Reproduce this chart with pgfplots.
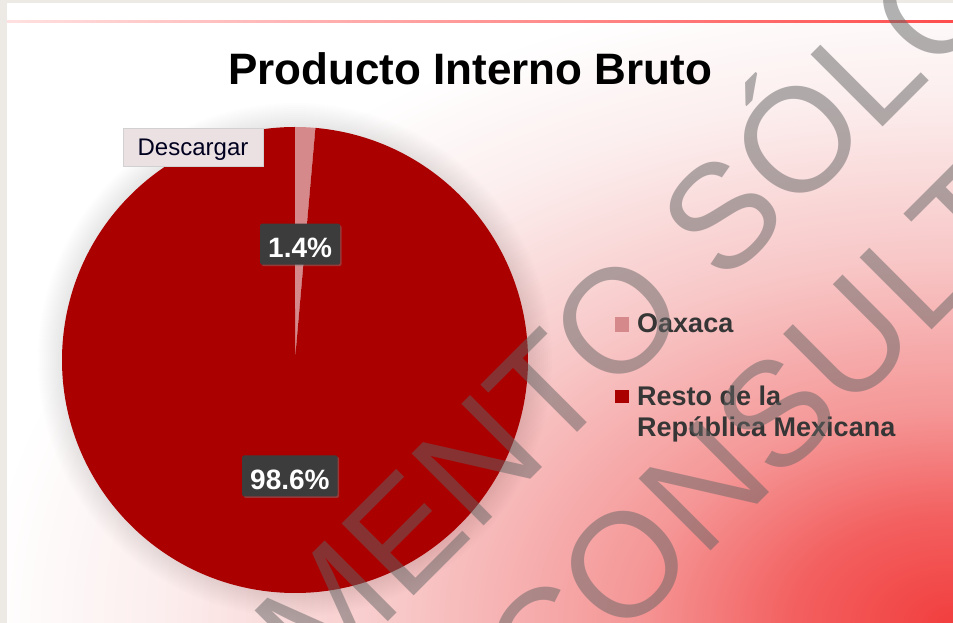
\documentclass[border=0pt]{standalone}
\usepackage{fontspec}
\setmainfont{Liberation Sans}
\usepackage{pgfplots}
\usepackage{pgfplotstable}
\pgfplotsset{compat=1.18}
\usetikzlibrary{shadows}

\definecolor{resto}{HTML}{AA0000}
\definecolor{oaxaca}{HTML}{D5898A}
\definecolor{lblgray}{HTML}{3C3C3C}
\definecolor{legtext}{HTML}{363636}
\definecolor{wmgray}{HTML}{646464}
\definecolor{framegray}{HTML}{EDEAE6}
\definecolor{btnfill}{HTML}{EBE0E2}
\definecolor{bg0}{RGB}{242,62,62}
\definecolor{bg1}{RGB}{243,95,95}
\definecolor{bg2}{RGB}{245,150,150}
\definecolor{bg3}{RGB}{248,200,200}
\definecolor{bg4}{RGB}{252,238,238}

% elliptic glow from the lower right corner (25bp = edge of the path)
\pgfdeclareradialshading{bgglow}{\pgfpoint{0bp}{0bp}}{%
  color(0bp)=(bg0); color(4bp)=(bg1); color(8bp)=(bg2);
  color(14bp)=(bg3); color(20bp)=(bg4); color(24.5bp)=(white); color(50bp)=(white)}

% PIB share, percent
\pgfplotstableread{
region value
Oaxaca 1.4
Resto  98.6
}\pibdata

\begin{document}
\begin{tikzpicture}[x=1pt,y=1pt,
  lbl/.style={fill=lblgray, text=white, inner xsep=8pt, inner ysep=7pt,
    text height=27pt, text depth=0pt, rounded corners=2pt,
    font=\bfseries\fontsize{28}{30}\selectfont,
    drop shadow={opacity=0.45, shadow xshift=1.5pt, shadow yshift=-1.5pt}},
  legtxt/.style={anchor=base west, inner sep=0, text=legtext,
    font=\bfseries\fontsize{27}{30}\selectfont},
  wm/.style={rotate=45, anchor=base west, inner sep=0, text=wmgray, opacity=0.5,
    font=\fontsize{148}{150}\selectfont}]
\pgfplotstablegetelem{0}{value}\of\pibdata \let\va\pgfplotsretval
\pgfplotstablegetelem{1}{value}\of\pibdata \let\vb\pgfplotsretval
\pgfmathsetmacro\fa{\va/(\va+\vb)}
\pgfmathsetmacro\fb{\vb/(\va+\vb)}
\pgfmathsetmacro\angA{90-360*\fa}
\pgfmathsetmacro\angB{\angA-360*\fb}
\pgfmathsetmacro\midA{(90+\angA)/2}
\pgfmathsetmacro\midB{(\angA+\angB)/2}

\useasboundingbox (0,0) rectangle (953,623);
\clip (0,0) rectangle (953,623);

% page frame and background
\fill[framegray] (0,0) rectangle (953,623);
\fill[white] (7,0) rectangle (953,620);
\begin{scope}
  \clip (7,0) rectangle (953,601);
  \shade[shading=bgglow] (953,0) ellipse[x radius=990pt, y radius=660pt];
\end{scope}
\shade[left color=red!12, right color=red!70] (7,600.8) rectangle (953,602.2);

% soft shadow of the pie
\foreach \k in {1,...,12}
  \fill[black, opacity=0.009] (295,263) circle[radius={233pt+\k*2pt}];

\begin{pgfinterruptboundingbox}
\begin{axis}[at={(0,0)}, anchor=south west, scale only axis,
  width=953pt, height=623pt, xmin=0, xmax=953, ymin=0, ymax=623,
  hide axis, clip=false]
\fill[oaxaca] (axis cs:295,263) -- ++(90:233pt)
  arc[start angle=90, end angle=\angA, radius=233pt] -- cycle;
\fill[resto] (axis cs:295,263) -- ++(\angA:233pt)
  arc[start angle=\angA, end angle=\angB, radius=233pt] -- cycle;
\path (axis cs:295,263) ++(\midA:116pt)
  node[lbl] {\pgfmathprintnumber[fixed,precision=1,assume math mode=true]{\va}\%};
\path (axis cs:295,263) ++(\midB:116pt)
  node[lbl] {\pgfmathprintnumber[fixed,precision=1,assume math mode=true]{\vb}\%};
\end{axis}
\end{pgfinterruptboundingbox}

% title
\node[anchor=base, inner sep=0, font=\bfseries\fontsize{44}{50}\selectfont]
  at (470,538) {Producto Interno Bruto};

% export button
\fill[btnfill, draw=black!18, line width=0.6pt,
  drop shadow={opacity=0.3, shadow xshift=1pt, shadow yshift=-1pt}]
  (123,457) rectangle (263,495);
\node[anchor=base, inner sep=0, text=black!88!blue, font=\fontsize{24}{26}\selectfont]
  at (193,467) {Descargar};

% legend
\fill[oaxaca] (615,291) rectangle (629,306);
\fill[resto] (615,220) rectangle (629,233);
\node[legtxt] at (637,290) {Oaxaca};
\node[legtxt] at (637,217) {Resto de la};
\node[legtxt] at (637,186) {República Mexicana};

% watermark
\node[wm] at (10,-377) {DOCUMENTO SÓLO};
\node[wm] at (545,-94) {CONSULTA};
\end{tikzpicture}
\end{document}
